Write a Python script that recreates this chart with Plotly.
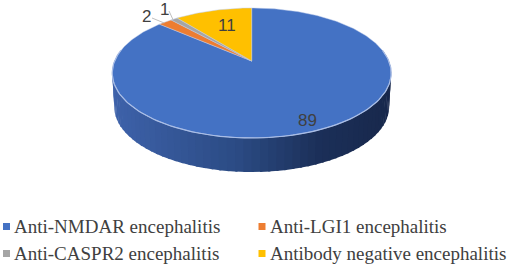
import numpy as np
import plotly.graph_objects as go

categories = ["Anti-NMDAR encephalitis", "Anti-LGI1 encephalitis",
              "Anti-CASPR2 encephalitis", "Antibody negative encephalitis"]
values = [89, 2, 1, 11]
colors = ["#4472C4", "#ED7D31", "#A5A5A5", "#FFC000"]
value_labels = ["89", "2", "1", "11"]

# pie geometry in page pixels (tilted disc seen in perspective)
CX, CY = 251.7, 61.0
B, A, K = 137.1, 62.8, 0.1846
DEPTH = 34.0


def project(theta, shift=0.0, scale=1.0):
    """theta: radians clockwise from 12 o'clock on the un-tilted disc."""
    u, v = np.sin(theta), np.cos(theta)
    d = 1 + K * v
    return CX + scale * B * u / d, CY - A * v / d + shift


def mix(c1, c2, t):
    return "rgb(%d,%d,%d)" % tuple(round(a + (b - a) * t) for a, b in zip(c1, c2))


fig = go.Figure()

# side wall gradient
SIDE_STOPS = [(0.0, (62, 98, 170)), (0.45, (43, 75, 132)), (0.75, (27, 47, 88)), (1.0, (24, 40, 76))]
edges = np.radians(np.linspace(280, 80, 71))
for a0, a1 in zip(edges[:-1], edges[1:]):
    ts = np.linspace(a0, a1 - np.radians(0.8), 5)
    x1, y1 = project(ts)
    x2, y2 = project(ts, DEPTH, 0.985)
    f = (np.mean(x1) - (CX - 140)) / 280
    f = min(max(f, 0), 1)
    for (p0, c0), (p1, c1) in zip(SIDE_STOPS[:-1], SIDE_STOPS[1:]):
        if p0 <= f <= p1:
            col = mix(c0, c1, (f - p0) / (p1 - p0))
    fig.add_trace(go.Scatter(x=np.r_[x1, x2[::-1]], y=np.r_[y1, y2[::-1]], mode="lines",
                             fill="toself", fillcolor=col, line=dict(width=0),
                             hoverinfo="skip", showlegend=False))

# top face wedges, clockwise from 12 o'clock
fractions = np.cumsum([0] + values) / sum(values) * 2 * np.pi
mids = {}
for i, cat in enumerate(categories):
    ts = np.linspace(fractions[i], fractions[i + 1], max(3, int(values[i] * 4)))
    x, y = project(ts)
    fig.add_trace(go.Scatter(x=np.r_[CX, x, CX], y=np.r_[CY, y, CY], mode="lines",
                             fill="toself", fillcolor=colors[i],
                             line=dict(width=0.6, color="rgba(190,205,235,0.8)"),
                             name=cat, showlegend=False))
    mids[i] = (fractions[i] + fractions[i + 1]) / 2

# light rim along the front of the disc
ts = np.radians(np.linspace(80, 280, 120))
x, y = project(ts)
fig.add_trace(go.Scatter(x=x, y=y, mode="lines", line=dict(width=1.2, color="#A9BDE6"),
                         hoverinfo="skip", showlegend=False))

# value labels with leader lines
label_pos = {0: (307, 120), 1: (146, 16), 2: (164, 9), 3: (227, 25)}
for i in (1, 2):
    ex, ey = project(np.array([mids[i]]))
    lx, ly = label_pos[i]
    start = (lx + 6, ly + 2) if i == 1 else (lx + 5, ly + 2)
    fig.add_trace(go.Scatter(x=[start[0], ex[0] - 1], y=[start[1], ey[0] + 1], mode="lines",
                             line=dict(width=1, color="#BFBFBF"), hoverinfo="skip", showlegend=False))
for i, txt in enumerate(value_labels):
    lx, ly = label_pos[i]
    fig.add_annotation(x=lx, y=ly, text=txt, showarrow=False,
                       font=dict(family="Liberation Sans", size=17, color="#404040"))

# key
key_pos = [(6.5, 226.5), (262, 226.5), (6.5, 253.5), (262, 253.5)]
for (kx, ky), cat, col in zip(key_pos, categories, colors):
    fig.add_trace(go.Scatter(x=[kx], y=[ky], mode="markers", showlegend=False, hoverinfo="skip",
                             marker=dict(symbol="square", size=7, color=col)))
    fig.add_annotation(x=kx + 8.5 - 3, y=ky, text=cat, showarrow=False, xanchor="left",
                       font=dict(family="Liberation Serif", size=19, color="#404040"))

fig.update_layout(
    width=510, height=266, margin=dict(l=0, r=0, t=0, b=0),
    paper_bgcolor="white", plot_bgcolor="white", showlegend=False,
    xaxis=dict(range=[0, 510], visible=False, fixedrange=True),
    yaxis=dict(range=[266, 0], visible=False, fixedrange=True),
)
fig.write_html("out.html", config={"displayModeBar": False},
               post_script="document.body.style.margin='0';document.body.style.overflow='hidden';")
